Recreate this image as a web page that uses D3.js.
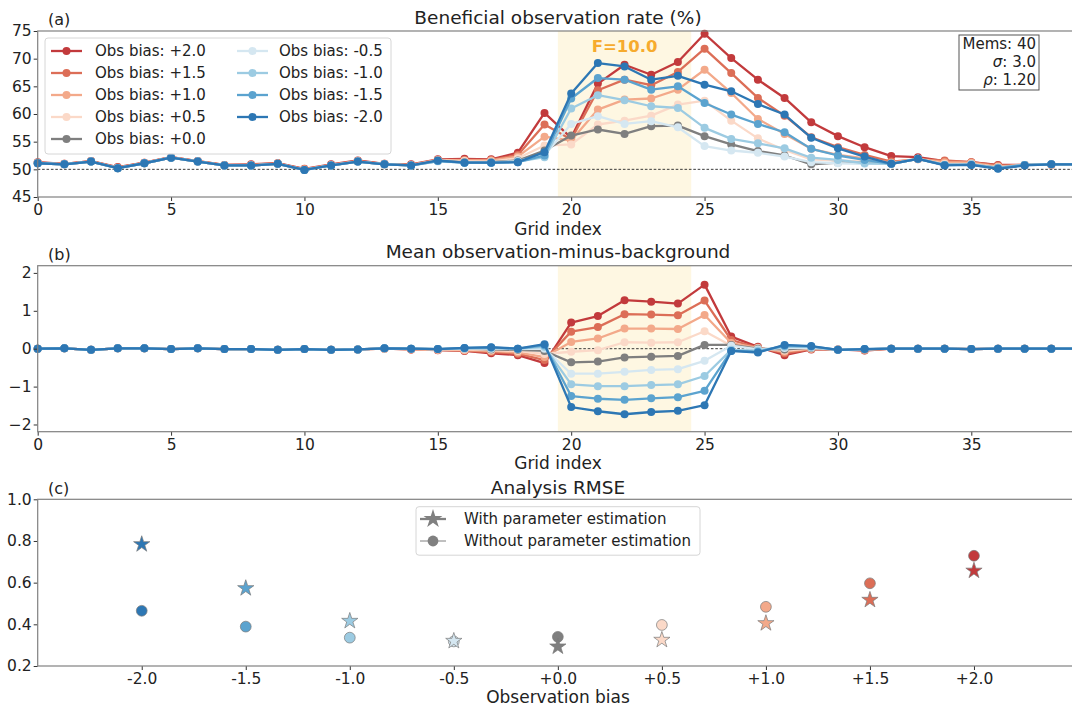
<!DOCTYPE html>
<html><head><meta charset="utf-8">
<script src="https://cdn.jsdelivr.net/npm/d3@7"></script>
<style>body{margin:0;background:#fff} text{font-family:"DejaVu Sans",sans-serif;fill:#222}</style>
</head><body><svg id="chart" width="1072" height="709"></svg>
<script>
// ---------------- DATA ----------------
const gridIndex = d3.range(40);
const seriesNames = ["Obs bias: +2.0","Obs bias: +1.5","Obs bias: +1.0","Obs bias: +0.5","Obs bias: +0.0",
                     "Obs bias: -0.5","Obs bias: -1.0","Obs bias: -1.5","Obs bias: -2.0"];
const seriesColors = ["#c23a3c","#dc6e57","#f3a98a","#fbd9c8","#7f7f7f","#d5e7f1","#9ccbe2","#5ba3cf","#2d77b4"];

// (a) Beneficial observation rate (%)
const rateP20 = [51.3,51.0,51.5,50.4,51.2,52.2,51.5,50.8,50.9,51.1,50.1,50.9,51.6,51.0,50.9,51.8,51.9,51.8,53.0,60.2,55.7,65.5,68.9,67.1,69.4,74.5,70.1,66.2,62.9,58.5,56.0,54.0,52.4,52.2,51.5,51.3,50.8,50.8,50.9,50.9];
const rateP15 = [51.2,51.0,51.5,50.3,51.2,52.2,51.5,50.8,50.8,51.1,50.0,50.8,51.5,51.0,50.8,51.7,51.7,51.7,52.6,58.1,55.4,64.3,66.2,65.2,67.6,71.8,67.4,62.9,59.7,55.8,54.0,52.6,51.4,51.8,51.6,51.3,50.7,50.8,50.8,50.9];
const rateP10 = [51.2,50.9,51.4,50.3,51.1,52.1,51.4,50.7,50.8,51.0,50.0,50.8,51.5,50.9,50.8,51.7,51.6,51.6,52.3,55.9,55.2,60.8,62.6,62.8,64.4,68.0,63.8,59.1,56.4,53.7,52.6,52.0,51.2,51.9,51.3,51.2,50.5,50.8,50.8,50.9];
const rateP05 = [51.1,50.9,51.4,50.2,51.1,52.1,51.4,50.7,50.7,51.0,49.9,50.7,51.4,50.9,50.7,51.6,51.5,51.4,52.0,54.3,54.5,58.1,58.8,59.7,61.7,62.4,58.8,55.6,53.5,51.8,51.6,51.4,51.0,51.9,51.0,51.0,50.4,50.8,50.9,50.9];
const rate00  = [51.1,50.9,51.4,50.2,51.1,52.1,51.4,50.7,50.7,51.0,49.9,50.7,51.4,50.9,50.7,51.5,51.3,51.3,51.6,53.4,56.1,57.2,56.4,57.8,57.9,56.0,54.5,53.3,52.5,50.9,51.2,51.2,51.0,51.9,50.8,50.9,50.3,50.8,50.9,50.9];
const rateM05 = [51.1,50.9,51.4,50.2,51.1,52.1,51.4,50.7,50.7,51.0,49.9,50.7,51.4,50.9,50.7,51.4,51.2,51.2,51.5,52.6,58.2,59.6,58.2,58.7,57.6,54.2,53.4,53.0,52.3,51.3,51.1,51.0,51.0,51.9,50.8,50.9,50.2,50.8,50.9,50.9];
const rateM10 = [51.1,50.9,51.4,50.2,51.1,52.1,51.4,50.7,50.7,51.0,49.9,50.7,51.4,50.9,50.7,51.5,51.2,51.2,51.4,52.2,61.0,63.4,62.5,61.4,61.1,57.5,55.5,54.7,53.8,52.1,51.7,51.1,51.0,51.9,50.8,50.9,50.2,50.8,50.9,50.9];
const rateM15 = [51.1,50.9,51.4,50.2,51.1,52.1,51.4,50.7,50.7,51.0,49.9,50.7,51.4,50.9,50.7,51.5,51.2,51.2,51.3,52.5,62.8,66.5,66.2,64.4,65.0,62.0,59.9,58.2,56.7,53.7,52.5,51.7,51.0,51.9,50.8,50.8,50.2,50.8,50.9,50.9];
const rateM20 = [51.1,50.9,51.4,50.2,51.1,52.1,51.4,50.7,50.7,51.0,49.9,50.7,51.4,50.9,50.7,51.6,51.2,51.2,51.3,53.1,63.7,69.2,68.6,66.2,66.9,65.3,64.1,61.8,59.9,55.7,53.8,52.3,51.0,51.9,50.7,50.8,50.1,50.7,50.9,50.9];

// (b) Mean observation-minus-background
const ombP20 = [0.0,0.01,-0.03,0.01,0.01,-0.01,0.01,-0.01,-0.01,-0.03,-0.01,-0.03,-0.02,0.0,-0.02,-0.04,-0.06,-0.12,-0.17,-0.38,0.69,0.86,1.28,1.24,1.19,1.69,0.32,0.05,-0.17,-0.02,-0.02,-0.05,0.0,0.0,0.0,-0.01,0.0,0.0,0.0,0.0];
const ombP15 = [0.0,0.01,-0.03,0.01,0.01,-0.01,0.01,-0.01,-0.01,-0.03,-0.01,-0.03,-0.02,0.0,-0.02,-0.03,-0.05,-0.09,-0.13,-0.30,0.45,0.57,0.91,0.90,0.88,1.27,0.23,0.03,-0.12,-0.01,-0.02,-0.04,0.0,0.0,0.0,-0.01,0.0,0.0,0.0,0.0];
const ombP10 = [0.0,0.01,-0.03,0.01,0.01,-0.01,0.01,-0.01,-0.01,-0.03,-0.01,-0.03,-0.02,0.0,-0.01,-0.03,-0.04,-0.06,-0.10,-0.22,0.18,0.27,0.53,0.53,0.52,0.89,0.15,0.02,-0.08,0.0,-0.02,-0.03,0.0,0.0,0.0,-0.01,0.0,0.0,0.0,0.0];
const ombP05 = [0.0,0.01,-0.03,0.01,0.01,-0.01,0.01,-0.01,-0.01,-0.03,-0.01,-0.03,-0.02,0.0,-0.01,-0.02,-0.02,-0.04,-0.06,-0.14,-0.08,-0.04,0.17,0.16,0.17,0.46,0.08,0.01,-0.05,0.01,-0.02,-0.02,0.0,0.0,0.0,-0.01,0.0,0.0,0.0,0.0];
const omb00  = [0.0,0.01,-0.03,0.01,0.01,-0.01,0.01,-0.01,-0.01,-0.03,-0.01,-0.03,-0.02,0.01,0.0,-0.01,0.0,-0.02,-0.03,-0.06,-0.36,-0.34,-0.23,-0.21,-0.19,0.10,0.10,0.0,-0.02,0.02,-0.03,-0.02,0.0,0.0,0.0,-0.01,0.0,0.0,0.0,0.0];
const ombM05 = [0.0,0.01,-0.03,0.01,0.01,-0.01,0.01,-0.01,-0.01,-0.03,-0.01,-0.03,-0.02,0.01,0.0,-0.01,0.0,0.0,-0.01,0.0,-0.66,-0.66,-0.61,-0.56,-0.54,-0.32,0.08,-0.02,0.02,0.03,-0.03,-0.01,0.0,0.0,0.0,-0.01,0.0,0.0,0.0,0.0];
const ombM10 = [0.0,0.01,-0.03,0.01,0.01,-0.01,0.01,-0.01,-0.01,-0.03,-0.01,-0.03,-0.02,0.01,0.0,-0.01,0.01,0.02,0.0,0.05,-0.94,-0.99,-0.99,-0.96,-0.94,-0.72,-0.03,-0.05,0.05,0.05,-0.03,-0.01,0.0,0.0,0.0,-0.01,0.0,0.0,0.0,0.0];
const ombM15 = [0.0,0.01,-0.03,0.01,0.01,-0.01,0.01,-0.01,-0.01,-0.03,-0.01,-0.03,-0.02,0.01,0.0,-0.01,0.02,0.03,0.0,0.09,-1.25,-1.32,-1.35,-1.31,-1.28,-1.11,-0.06,-0.08,0.08,0.06,-0.03,-0.01,0.0,0.0,0.0,-0.01,0.0,0.0,0.0,0.0];
const ombM20 = [0.0,0.01,-0.03,0.01,0.01,-0.01,0.01,-0.01,-0.01,-0.03,-0.01,-0.03,-0.02,0.01,0.0,-0.01,0.02,0.04,0.0,0.12,-1.54,-1.65,-1.73,-1.67,-1.64,-1.49,-0.06,-0.10,0.10,0.07,-0.03,-0.01,0.0,0.0,0.0,-0.01,0.0,0.0,0.0,0.0];

// (c) Analysis RMSE
const biasValues = [-2.0,-1.5,-1.0,-0.5,0.0,0.5,1.0,1.5,2.0];
const biasLabels = ["-2.0","-1.5","-1.0","-0.5","+0.0","+0.5","+1.0","+1.5","+2.0"];
const biasColors = ["#2d77b4","#5ba3cf","#9ccbe2","#d5e7f1","#7f7f7f","#fbd9c8","#f3a98a","#dc6e57","#c23a3c"];
const rmseWith    = [0.784,0.573,0.416,0.320,0.293,0.325,0.405,0.517,0.657];
const rmseWithout = [0.465,0.389,0.336,0.318,0.340,0.397,0.484,0.597,0.729];

const gridXTicks = [0,5,10,15,20,25,30,35];
const rateYTicks = [45,50,55,60,65,70,75];
const ombYTicks = [-2,-1,0,1,2];
const rmseYTicks = [0.2,0.4,0.6,0.8,1.0];
const shadeRange = [19.5,24.5];

const rateSeries = [rateP20,rateP15,rateP10,rateP05,rate00,rateM05,rateM10,rateM15,rateM20];
const ombSeries  = [ombP20,ombP15,ombP10,ombP05,omb00,ombM05,ombM10,ombM15,ombM20];

// ---------------- LAYOUT ----------------
const svg = d3.select("#chart");
const L = 37.7, R = 1078;
const FONT = '"DejaVu Sans", sans-serif';
const SPINE = "#808080";

const xGrid = d3.scaleLinear().domain([0,39]).range([L,R]);
const yA = d3.scaleLinear().domain([45,75]).range([197,31]);
const yB = d3.scaleLinear().domain([-2.19,2.19]).range([431.7,265.7]);
const xC = d3.scaleLinear().domain([-2.5,2.5]).range([L,R]);
const yC = d3.scaleLinear().domain([0.2,1.0]).range([666,499.3]);

function styleAxis(g){
  g.select(".domain").remove();
  g.selectAll(".tick line").attr("stroke","#333").attr("stroke-width",1);
  g.selectAll(".tick text").attr("font-size","15.5px").attr("font-family",FONT).attr("fill","#222");
}
function frame(top,bottom){
  svg.append("rect").attr("x",L).attr("y",top).attr("width",R-L).attr("height",bottom-top)
    .attr("fill","none").attr("stroke",SPINE).attr("stroke-width",1.2);
}
function text(x,y,s,opts={}){
  const t = svg.append("text").attr("x",x).attr("y",y).attr("dy","0.35em")
    .attr("font-size",opts.size||"15px").attr("text-anchor",opts.anchor||"middle").text(s);
  if(opts.weight) t.attr("font-weight",opts.weight);
  if(opts.fill) t.style("fill",opts.fill);
  return t;
}

function linePanel(series, y, top, bottom, refVal){
  svg.append("rect").attr("x",xGrid(shadeRange[0])).attr("y",top)
    .attr("width",xGrid(shadeRange[1])-xGrid(shadeRange[0])).attr("height",bottom-top)
    .attr("fill","#fef7e2");
  svg.append("line").attr("x1",L).attr("x2",R).attr("y1",y(refVal)).attr("y2",y(refVal))
    .attr("stroke","#222").attr("stroke-width",0.9).attr("stroke-dasharray","2.6,1.8");
  const line = d3.line().x((d,i)=>xGrid(gridIndex[i])).y(d=>y(d));
  series.forEach((vals,si)=>{
    const g = svg.append("g");
    g.append("path").attr("d",line(vals)).attr("fill","none")
      .attr("stroke",seriesColors[si]).attr("stroke-width",2.3).attr("stroke-linejoin","round");
    g.selectAll("circle").data(vals).join("circle")
      .attr("cx",(d,i)=>xGrid(gridIndex[i])).attr("cy",d=>y(d)).attr("r",4)
      .attr("fill",seriesColors[si]);
  });
}

// ---------- Panel (a) ----------
linePanel(rateSeries, yA, 31, 197, 50);
svg.append("g").attr("transform","translate(0,197)")
  .call(d3.axisBottom(xGrid).tickValues(gridXTicks).tickSize(4).tickPadding(3)).call(styleAxis);
svg.append("g").attr("transform",`translate(${L},0)`)
  .call(d3.axisLeft(yA).tickValues(rateYTicks).tickSize(4).tickPadding(2)).call(styleAxis);
frame(31,197);
text(558,18,"Beneficial observation rate (%)",{size:"18.5px"});
text(48,19,"(a)",{size:"16px",anchor:"start"});
text(558,229,"Grid index",{size:"17px"});
text(xGrid(22),46,"F=10.0",{size:"16.5px",weight:"bold",fill:"#f6ab2e"});

// legend (a)
svg.append("rect").attr("x",45).attr("y",38).attr("width",346).attr("height",116).attr("rx",3)
  .attr("fill","#fff").attr("fill-opacity",0.85).attr("stroke","#d6d6d6");
seriesNames.forEach((nm,i)=>{
  const col = i<5?0:1, row = i<5?i:i-5;
  const hx = col===0?51:237, tx = col===0?95:279;
  const yy = 51 + row*22;
  svg.append("line").attr("x1",hx).attr("x2",hx+31).attr("y1",yy).attr("y2",yy)
    .attr("stroke",seriesColors[i]).attr("stroke-width",2.3);
  svg.append("circle").attr("cx",hx+15.5).attr("cy",yy).attr("r",4).attr("fill",seriesColors[i]);
  text(tx,yy,nm,{size:"15px",anchor:"start"});
});

// info box
svg.append("rect").attr("x",959).attr("y",35).attr("width",80).attr("height",55)
  .attr("fill","#fff").attr("stroke","#555").attr("stroke-width",1);
text(1036,44,"Mems: 40",{anchor:"end"});
const s1 = text(1036,62,"",{anchor:"end"});
s1.append("tspan").attr("font-style","italic").text("σ");
s1.append("tspan").text(": 3.0");
const s2 = text(1036,80,"",{anchor:"end"});
s2.append("tspan").attr("font-style","italic").text("ρ");
s2.append("tspan").text(": 1.20");

// ---------- Panel (b) ----------
linePanel(ombSeries, yB, 265.7, 431.7, 0);
svg.append("g").attr("transform","translate(0,431.7)")
  .call(d3.axisBottom(xGrid).tickValues(gridXTicks).tickSize(4).tickPadding(3)).call(styleAxis);
svg.append("g").attr("transform",`translate(${L},0)`)
  .call(d3.axisLeft(yB).tickValues(ombYTicks).tickSize(4).tickPadding(2)
    .tickFormat(d=>d<0?"\u2212"+Math.abs(d):String(d))).call(styleAxis);
frame(265.7,431.7);
text(558,252,"Mean observation-minus-background",{size:"18.5px"});
text(48,254,"(b)",{size:"16px",anchor:"start"});
text(558,463,"Grid index",{size:"17px"});

// ---------- Panel (c) ----------
const star = d3.symbol().type(d3.symbolStar).size(82);
const starLeg = d3.symbol().type(d3.symbolStar).size(110);
svg.append("g").selectAll("circle").data(rmseWithout).join("circle")
  .attr("cx",(d,i)=>xC(biasValues[i])).attr("cy",d=>yC(d)).attr("r",5.4)
  .attr("fill",(d,i)=>biasColors[i]).attr("stroke","#7a7a7a").attr("stroke-width",0.7);
svg.append("g").selectAll("path").data(rmseWith).join("path")
  .attr("d",star).attr("transform",(d,i)=>`translate(${xC(biasValues[i])},${yC(d)})`)
  .attr("fill",(d,i)=>biasColors[i]).attr("stroke","#7a7a7a").attr("stroke-width",0.7);
svg.append("g").attr("transform","translate(0,666)")
  .call(d3.axisBottom(xC).tickValues(biasValues).tickSize(4).tickPadding(3)
    .tickFormat((d,i)=>biasLabels[i])).call(styleAxis);
svg.append("g").attr("transform",`translate(${L},0)`)
  .call(d3.axisLeft(yC).tickValues(rmseYTicks).tickSize(4).tickPadding(2).tickFormat(d3.format(".1f"))).call(styleAxis);
frame(499.3,666);
text(558,488,"Analysis RMSE",{size:"18.5px"});
text(48,488,"(c)",{size:"16px",anchor:"start"});
text(558,697,"Observation bias",{size:"17px"});

// legend (c)
svg.append("rect").attr("x",416).attr("y",506.7).attr("width",284).attr("height",48.5).attr("rx",3)
  .attr("fill","#fff").attr("fill-opacity",0.85).attr("stroke","#d6d6d6");
svg.append("line").attr("x1",420).attr("x2",446).attr("y1",519).attr("y2",519)
  .attr("stroke","#808080").attr("stroke-width",2.3);
svg.append("path").attr("d",starLeg).attr("transform","translate(433,519)").attr("fill","#808080");
text(464,519,"With parameter estimation",{anchor:"start"});
svg.append("line").attr("x1",420).attr("x2",446).attr("y1",541).attr("y2",541)
  .attr("stroke","#808080").attr("stroke-width",1);
svg.append("circle").attr("cx",433).attr("cy",541).attr("r",5.4).attr("fill","#808080");
text(464,541,"Without parameter estimation",{anchor:"start"});
</script></body></html>
